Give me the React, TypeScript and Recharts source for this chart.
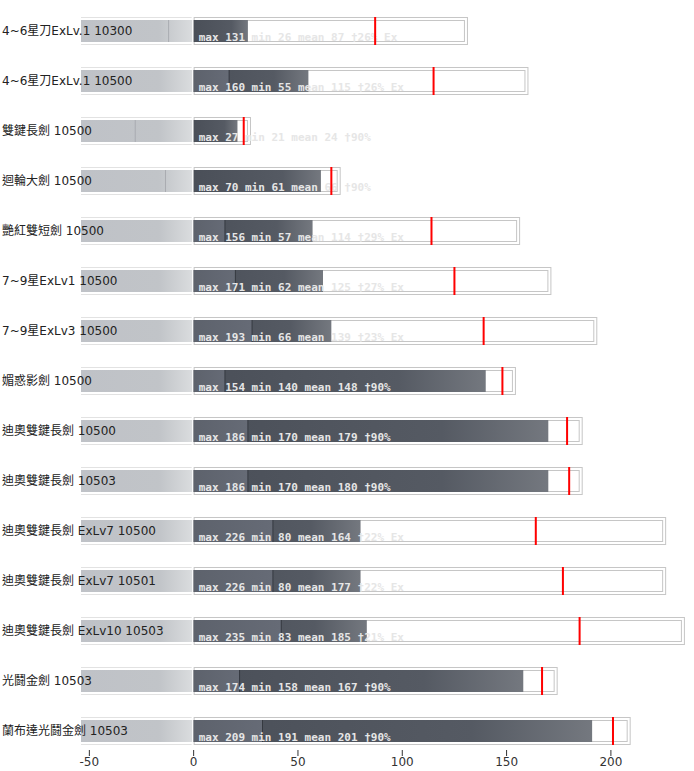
import { BarChart, Bar, XAxis, YAxis } from "recharts";

const names = [
  "4~6星刀ExLv.1 10300",
  "4~6星刀ExLv.1 10500",
  "雙鍵長劍 10500",
  "迴輪大劍 10500",
  "艷紅雙短劍 10500",
  "7~9星ExLv1 10500",
  "7~9星ExLv3 10500",
  "媚惑影劍 10500",
  "迪奧雙鍵長劍 10500",
  "迪奧雙鍵長劍 10503",
  "迪奧雙鍵長劍 ExLv7 10500",
  "迪奧雙鍵長劍 ExLv7 10501",
  "迪奧雙鍵長劍 ExLv10 10503",
  "光鬪金劍 10503",
  "蘭布達光鬪金劍 10503",
];
const maxVals = [131, 160, 27, 70, 156, 171, 193, 154, 186, 186, 226, 226, 235, 174, 209];
const minVals = [26, 55, 21, 61, 57, 62, 66, 140, 170, 170, 80, 80, 83, 158, 191];
const meanVals = [87, 115, 24, 66, 114, 125, 139, 148, 179, 180, 164, 177, 185, 167, 201];
const innerVals = [null, 17, null, null, 15, 20, 28, 15, 26, 26, 38, 38, 42, 22, 33];
const negMarks = [-12, null, -28, -13.5, null, null, null, null, null, null, null, null, null, null, null];
const tags = [
  "†26% Ex", "†26% Ex", "†90%", "†90%", "†29% Ex", "†27% Ex", "†23% Ex", "†90%",
  "†90%", "†90%", "†22% Ex", "†22% Ex", "†21% Ex", "†90%", "†90%",
];
const NEG_FLOOR = -54;
const xTicks = [-50, 0, 50, 100, 150, 200];

const rows = names.map((name, i) => ({
  name,
  neg: [NEG_FLOOR, 0],
  box: [0, maxVals[i]],
  dark: [0, minVals[i]],
  inner: innerVals[i] == null ? null : [0, innerVals[i]],
  mark: negMarks[i] == null ? null : [negMarks[i], 0],
  mean: [0, meanVals[i]],
  text: `max ${maxVals[i]} min ${minVals[i]} mean ${meanVals[i]} ${tags[i]}`,
}));

// grey band on the negative side, with the row name written over it
const NegShape = (p: any) => {
  const { x, y, width, height } = p;
  return (
    <g>
      <line x1={x} x2={x + width - 2} y1={y + 0.5} y2={y + 0.5} stroke="#e2e2e2" />
      <line x1={x} x2={x + width - 2} y1={y + height - 0.5} y2={y + height - 0.5} stroke="#e2e2e2" />
      <rect x={x} y={y + 3} width={width - 1.5} height={height - 6} fill="url(#negGrad)" />
      <text
        x={2}
        y={y + height / 2}
        dy={4}
        fontSize={12}
        fontFamily="DejaVu Sans, Noto Sans CJK TC"
        fill="#222"
      >
        {p.payload.name}
      </text>
    </g>
  );
};

const MarkShape = (p: any) => {
  if (!p.payload.mark) return <g />;
  const { x, y, height } = p;
  return <line x1={x} x2={x} y1={y + 3} y2={y + height - 3} stroke="#a9acb1" />;
};

const BoxShape = (p: any) => {
  const { x, y, width, height } = p;
  return (
    <g fill="#fff" stroke="#c6c6c6">
      <rect x={x + 0.5} y={y + 0.5} width={width} height={height - 1} />
      <rect x={x + 0.5} y={y + 3.5} width={width - 3} height={height - 7} />
    </g>
  );
};

const DarkShape = (p: any) => {
  const { x, y, width, height } = p;
  return <rect x={x} y={y + 3} width={width} height={height - 6} fill="url(#darkGrad)" />;
};

const InnerShape = (p: any) => {
  if (!p.payload.inner) return <g />;
  const { x, y, width, height } = p;
  return (
    <g>
      <rect x={x} y={y + 3} width={width} height={height - 6} fill="url(#innerGrad)" />
      <line x1={x + width} x2={x + width} y1={y + 3} y2={y + height - 3} stroke="#353940" />
    </g>
  );
};

const TextShape = (p: any) => {
  const { x, y, height } = p;
  return (
    <text
      x={x + 5}
      y={y + height - 4}
      fontFamily="DejaVu Sans Mono"
      fontWeight="bold"
      fontSize={11}
      fill="#e6e6e6"
    >
      {p.payload.text}
    </text>
  );
};

const MeanShape = (p: any) => {
  const { x, y, width, height } = p;
  return <rect x={x + width - 1} y={y} width={2} height={height} fill="#ff0000" />;
};

const ValueTick = ({ x, y, payload }: any) => (
  <g>
    <line x1={x} x2={x} y1={y - 6} y2={y} stroke="#333" />
    <text x={x} y={y + 10} textAnchor="middle" fontSize={12} fontFamily="DejaVu Sans" fill="#333">
      {payload.value}
    </text>
  </g>
);

export default function App() {
  return (
    <div style={{ position: "absolute", left: 0, top: 0 }}>
      <BarChart
        width={694}
        height={771}
        data={rows}
        layout="vertical"
        margin={{ top: 6, right: 8, left: 81, bottom: 0 }}
        barSize={28}
        barGap={-28}
      >
        <defs>
          <linearGradient id="negGrad" x1="0" y1="0" x2="1" y2="0">
            <stop offset="0%" stopColor="#bfc2c7" />
            <stop offset="70%" stopColor="#c1c4c8" />
            <stop offset="100%" stopColor="#dadcde" />
          </linearGradient>
          <linearGradient id="darkGrad" x1="0" y1="0" x2="1" y2="0">
            <stop offset="0%" stopColor="#4a4f58" />
            <stop offset="70%" stopColor="#555a63" />
            <stop offset="100%" stopColor="#74787f" />
          </linearGradient>
          <linearGradient id="innerGrad" x1="0" y1="0" x2="1" y2="0">
            <stop offset="0%" stopColor="#5d626c" />
            <stop offset="100%" stopColor="#666b76" />
          </linearGradient>
        </defs>
        <XAxis
          type="number"
          domain={[NEG_FLOOR, 236]}
          ticks={xTicks}
          height={15}
          axisLine={false}
          tickLine={false}
          tickSize={0}
          tickMargin={0}
          tick={<ValueTick />}
        />
        <YAxis type="category" dataKey="name" hide />
        <Bar dataKey="neg" shape={<NegShape />} isAnimationActive={false} />
        <Bar dataKey="mark" shape={<MarkShape />} isAnimationActive={false} />
        <Bar dataKey="box" shape={<BoxShape />} isAnimationActive={false} />
        <Bar dataKey="dark" shape={<DarkShape />} isAnimationActive={false} />
        <Bar dataKey="inner" shape={<InnerShape />} isAnimationActive={false} />
        <Bar dataKey="box" shape={<TextShape />} isAnimationActive={false} />
        <Bar dataKey="mean" shape={<MeanShape />} isAnimationActive={false} />
      </BarChart>
    </div>
  );
}
